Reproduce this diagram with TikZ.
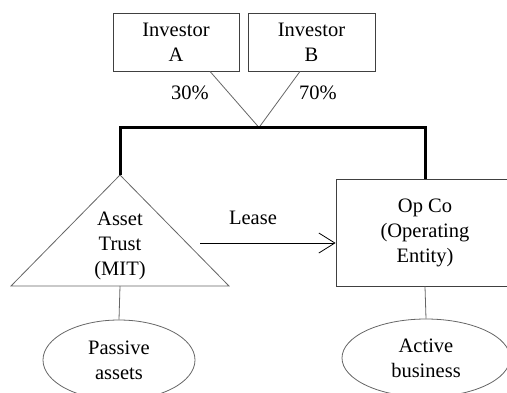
\documentclass[tikz,border=0pt]{standalone}
\usepackage{fontspec}
\setmainfont{Liberation Serif}
\usetikzlibrary{arrows.meta, shapes.geometric, positioning}

\tikzset{
  box/.style={draw=black!75, line width=0.8pt, align=center, inner sep=0pt},
  blob/.style={ellipse, draw=black!60, line width=0.8pt, align=center, inner sep=0pt},
  link/.style={draw=black!60, line width=0.8pt},
  own/.style={line width=3pt}
}

\begin{document}
\begin{tikzpicture}[x=1pt, y=-1pt, font=\fontsize{20.5}{25}\selectfont]
  \useasboundingbox (0,0) rectangle (507,392);
  \clip (0,0) rectangle (507,392);

  \node[box, minimum width=126pt, minimum height=58pt] (invA) at (176, 42) {Investor\\A};
  \node[box, minimum width=127pt, minimum height=58pt] (invB) at (311.5, 42) {Investor\\B};
  \coordinate (join) at (259, 127.5);
  \draw[link]
    (invA.south -| 210,0) -- (join)
    (invB.south -| 300,0) -- (join);
  \node (pA) at (190, 93) {30\%};
  \node (pB) at (318, 93) {70\%};

  % trust triangle
  \coordinate (apex) at (120, 175);
  \draw[link] (apex) -- (229, 286) -- (11, 286) -- cycle;
  \coordinate (base) at (120, 286);
  \node[align=center, inner sep=0pt] (trust) at (120, 246) {Asset\\Trust\\(MIT)};

  \node[box, minimum width=178pt, minimum height=107pt] (opco) at (425, 232.5) {Op Co\\(Operating\\Entity)};

  \draw[own] (apex) |- (join) -| (opco.north);

  \coordinate (leasefrom) at (200, 243);
  \draw[line width=0.8pt, -{Straight Barb[length=16pt, width=20pt, line width=0.8pt]}] (leasefrom) -- (leasefrom -| opco.west);
  \node (lease) at (253, 218) {Lease};

  \node[blob, minimum width=152pt, minimum height=80pt] (passive) at (119, 360) {Passive\\assets};
  \node[blob, minimum width=168pt, minimum height=78pt] (active) at (426, 358) {Active\\business};
  \draw[link]
    (base) -- (passive.north)
    (opco.south) -- (active.north);
\end{tikzpicture}
\end{document}
